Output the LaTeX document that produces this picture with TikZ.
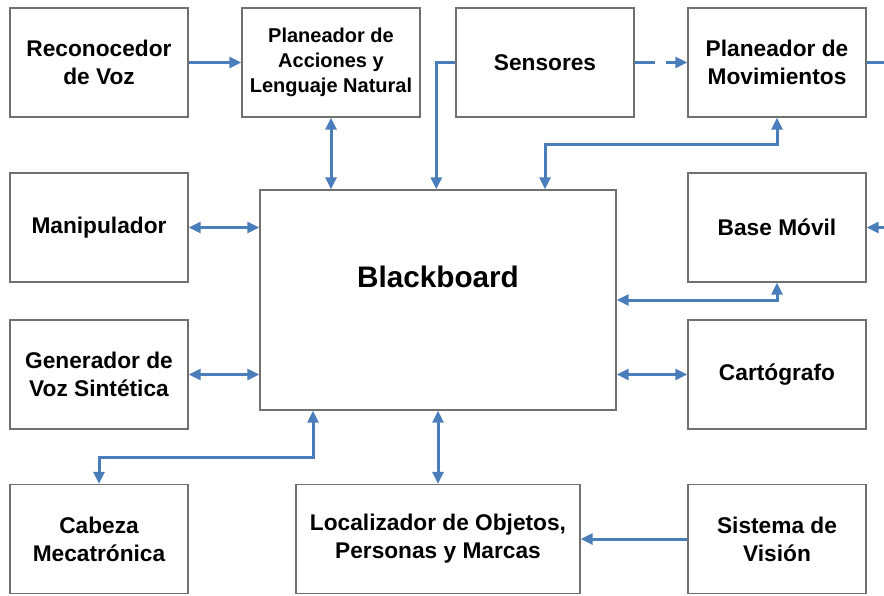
\documentclass[tikz,border=0pt]{standalone}
\usepackage{fontspec}
\setmainfont{Liberation Sans}
\usetikzlibrary{arrows.meta,positioning}
\definecolor{flecha}{RGB}{74,126,187}
\definecolor{borde}{RGB}{112,112,112}

\begin{document}
\begin{tikzpicture}[x=1pt,y=-1pt,
    modulo/.style={draw=borde,line width=1.4pt,minimum width=178pt,minimum height=109pt,inner sep=0pt,align=center,font=\fontsize{22.7}{28}\selectfont\bfseries},
    chico/.style={font=\fontsize{20}{25}\selectfont\bfseries},
    line/.style={flecha,line width=3pt,-{Triangle[length=12pt,width=11pt]}},
    dline/.style={line,{Triangle[length=12pt,width=11pt]}-{Triangle[length=12pt,width=11pt]}}
]
    \useasboundingbox (0,0) rectangle (884,595);

    % Fila superior
    \node at (99,62.5) [modulo] (rec) {Reconocedor\\de Voz};
    \node at (331,62.5) [modulo,chico] (pac) {Planeador de\\Acciones y\\Lenguaje Natural};
    \node at (545,62.5) [modulo] (sen) {Sensores};
    \node at (777,62.5) [modulo] (pmov) {Planeador de\\Movimientos};

    % Centro
    \node at (99,227.5) [modulo] (man) {Manipulador};
    \node at (438,300) [modulo,minimum width=356pt,minimum height=220pt] (bb) {};
    \node at (438,277) [font=\fontsize{29.7}{34}\selectfont\bfseries] (bbt) {Blackboard};
    \node at (777,227.5) [modulo] (bmov) {Base Móvil};
    \node at (99,374.5) [modulo] (gen) {Generador de\\Voz Sintética};
    \node at (777,374.5) [modulo] (car) {Cartógrafo};

    % Fila inferior
    \node at (99,539) [modulo] (cab) {Cabeza\\Mecatrónica};
    \node at (438,539) [modulo,minimum width=284pt] (loc) {Localizador de Objetos,\\Personas y Marcas};
    \node at (777,539) [modulo] (vis) {Sistema de\\Visión};

    % Arriba
    \draw[line] (rec.east) -- (pac.west);
    \draw[dline] (pac.south) -- (pac.south |- bb.north);
    \draw[line] (sen.west) -- ++(-19,0) coordinate (s1) -- (s1 |- bb.north);
    \draw[line,dash pattern=on 20pt off 11pt] (sen.east) -- (pmov.west);
    \draw[dline] ([xshift=107pt]bb.north) -- ++(0,-45) -| (pmov.south);
    \draw[line] (pmov.east) -- ++(19,0) |- (bmov.east);

    % Lados
    \draw[dline] (man.east) -- (man.east -| bb.west);
    \draw[dline] (gen.east) -- (gen.east -| bb.west);
    \draw[dline] (bb.east) -| (bmov.south);
    \draw[dline] (car.west) -- (car.west -| bb.east);

    % Abajo
    \draw[dline] ([xshift=-125pt]bb.south) -- ++(0,47) -| (cab.north);
    \draw[dline] (bb.south) -- (loc.north);
    \draw[line] (vis.west) -- (vis.west -| loc.east);
\end{tikzpicture}
\end{document}
